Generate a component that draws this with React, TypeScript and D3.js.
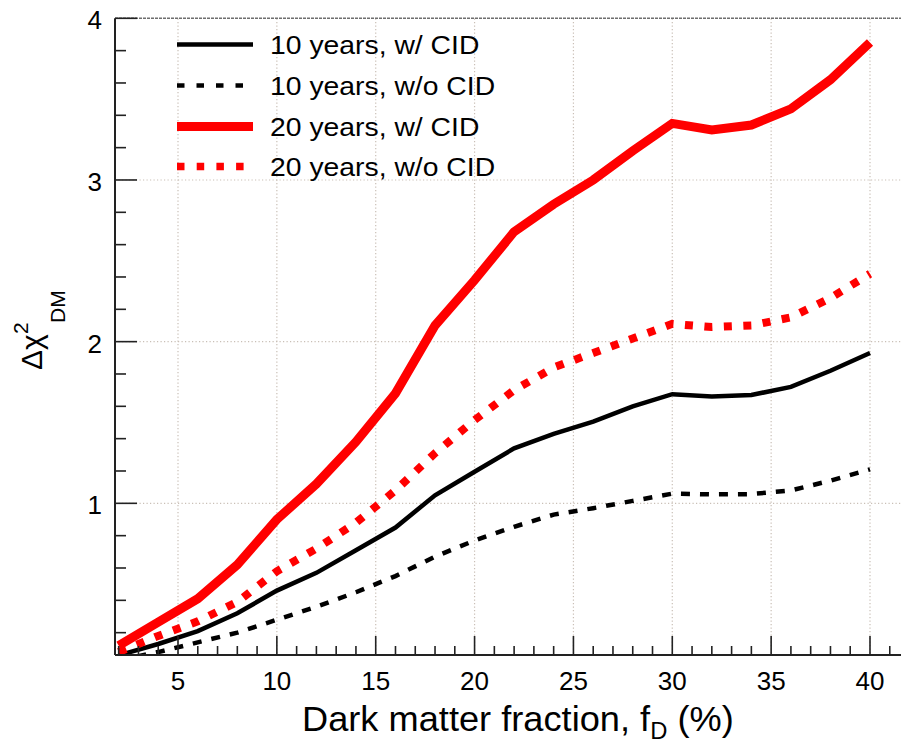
import React from "react";
import * as d3 from "d3";

const fractionD = [2, 4, 6, 8, 10, 12, 14, 16, 18, 20, 22, 24, 26, 28, 30, 32, 34, 36, 38, 40];
const y10WithCID = [0.06, 0.13, 0.21, 0.32, 0.46, 0.57, 0.71, 0.85, 1.05, 1.195, 1.34, 1.43, 1.505, 1.6, 1.675, 1.66, 1.67, 1.72, 1.82, 1.93];
const y10NoCID = [0.03, 0.08, 0.14, 0.2, 0.28, 0.36, 0.45, 0.55, 0.67, 0.77, 0.855, 0.93, 0.97, 1.015, 1.06, 1.055, 1.057, 1.08, 1.14, 1.21];
const y20WithCID = [0.12, 0.265, 0.41, 0.62, 0.9, 1.12, 1.38, 1.68, 2.1, 2.38, 2.68, 2.85, 3.0, 3.18, 3.35, 3.31, 3.34, 3.44, 3.62, 3.85];
const y20NoCID = [0.08, 0.18, 0.27, 0.39, 0.58, 0.72, 0.88, 1.08, 1.31, 1.515, 1.7, 1.84, 1.93, 2.02, 2.11, 2.09, 2.1, 2.15, 2.27, 2.42];

const seriesLabels = ["10 years, w/ CID", "10 years, w/o CID", "20 years, w/ CID", "20 years, w/o CID"];
const xTickValues = [5, 10, 15, 20, 25, 30, 35, 40];
const yTickValues = [1, 2, 3, 4];

const W = 901;
const H = 748;
const left = 115;
const right = 901;
const top = 18.5;
const bottom = 655;
const FONT = "'Liberation Sans', Arial, Helvetica, sans-serif";

export default function App() {
  const x = d3.scaleLinear().domain([5, 40]).range([178, 870]);
  const y = d3.scaleLinear().domain([0, 4]).range([665, 18.3]);

  const styles = [
    { data: y10WithCID, color: "#000", width: 4.5, dash: "", lw: 4.5, ldash: "" },
    { data: y10NoCID, color: "#000", width: 4.5, dash: "9 10", lw: 4.5, ldash: "7.5 12" },
    { data: y20WithCID, color: "#ff0000", width: 9, dash: "", lw: 9, ldash: "" },
    { data: y20NoCID, color: "#ff0000", width: 8, dash: "8 11.5", lw: 7.5, ldash: "7.5 12.2" },
  ];

  const line = d3
    .line<number>()
    .x((_, i) => x(fractionD[i]))
    .y((d) => y(d));

  const xMinor = d3.range(2, 42).filter((v) => v % 5 !== 0);
  const yMinor = d3.range(1, 20).map((v) => v * 0.2).filter((v) => Math.abs(v - Math.round(v)) > 1e-6);

  const sx = 1.09;

  return (
    <svg
      width={W}
      height={H}
      style={{ position: "absolute", left: 0, top: 0, background: "#fff" }}
      fontFamily={FONT}
    >
      <defs>
        <clipPath id="plotClip">
          <rect x={left} y={top - 2} width={right - left} height={bottom - top + 2} />
        </clipPath>
      </defs>

      {/* grid */}
      {xTickValues.map((v) => (
        <line key={"gx" + v} x1={x(v)} x2={x(v)} y1={top} y2={bottom} stroke="#c9bfb6" strokeWidth={1.2} strokeDasharray="1.2 2.3" />
      ))}
      {yTickValues.filter((v) => v < 4).map((v) => (
        <line key={"gy" + v} x1={left} x2={right} y1={y(v)} y2={y(v)} stroke="#c9bfb6" strokeWidth={1.2} strokeDasharray="1.2 2.3" />
      ))}
      <line x1={left} x2={right} y1={y(4)} y2={y(4)} stroke="#6e6e6e" strokeWidth={1.6} strokeDasharray="3 1" />

      {/* series */}
      <g clipPath="url(#plotClip)">
        {styles.map((s, i) => (
          <path
            key={i}
            d={line(s.data) || ""}
            fill="none"
            stroke={s.color}
            strokeWidth={s.width}
            strokeDasharray={s.dash || undefined}
            strokeLinejoin="miter"
          />
        ))}
      </g>

      {/* axes */}
      <line x1={left} x2={right} y1={bottom} y2={bottom} stroke="#222" strokeWidth={2} />
      <line x1={left} x2={left} y1={y(4)} y2={bottom} stroke="#222" strokeWidth={2} />
      {xTickValues.map((v) => (
        <line key={"xt" + v} x1={x(v)} x2={x(v)} y1={bottom} y2={bottom - 19} stroke="#222" strokeWidth={1.6} />
      ))}
      {xMinor.map((v) => (
        <line key={"xm" + v} x1={x(v)} x2={x(v)} y1={bottom} y2={bottom - 9} stroke="#222" strokeWidth={1.6} />
      ))}
      {yTickValues.map((v) => (
        <line key={"yt" + v} x1={left} x2={left + 22} y1={y(v)} y2={y(v)} stroke="#222" strokeWidth={1.6} />
      ))}
      {yMinor.map((v) => (
        <line key={"ym" + v} x1={left} x2={left + 11} y1={y(v)} y2={y(v)} stroke="#222" strokeWidth={1.6} />
      ))}

      {/* tick labels */}
      {xTickValues.map((v) => (
        <text key={"xl" + v} x={x(v)} y={690} textAnchor="middle" fontSize={26} fill="#000">
          {v}
        </text>
      ))}
      {yTickValues.map((v) => (
        <text key={"yl" + v} x={102} y={y(v) + 11} textAnchor="end" fontSize={26} fill="#000">
          {v}
        </text>
      ))}

      {/* axis titles */}
      <g transform="translate(302,731) scale(1.035,1)">
        <text x={0} y={0} fontSize={35} fill="#000">
          Dark matter fraction, f
          <tspan fontSize={23} dy={8}>D</tspan>
          <tspan dy={-8}> (%)</tspan>
        </text>
      </g>
      <g transform="translate(41.7,370) rotate(-90)" fill="#000">
        <text x={0} y={0} fontSize={30}>Δχ</text>
        <text x={36} y={-14} fontSize={21}>2</text>
        <text x={47} y={23} fontSize={21}>DM</text>
      </g>

      {/* legend */}
      {seriesLabels.map((lab, i) => {
        const cy = [44.5, 85.5, 126.5, 166.5][i];
        const s = styles[i];
        return (
          <g key={"lg" + i}>
            <line x1={177} x2={253} y1={cy} y2={cy} stroke={s.color} strokeWidth={s.lw} strokeDasharray={s.ldash || undefined} />
            <g transform={`translate(270,${cy + 9.5}) scale(${sx},1)`}>
              <text x={0} y={0} fontSize={26} fill="#000">
                {lab}
              </text>
            </g>
          </g>
        );
      })}
    </svg>
  );
}
